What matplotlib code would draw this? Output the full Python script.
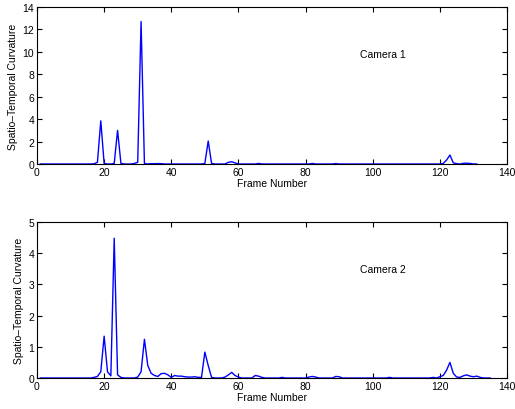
import numpy as np
import matplotlib
matplotlib.use("Agg")
import matplotlib.pyplot as plt

plt.rcParams['font.family'] = ['Liberation Sans', 'DejaVu Sans']

# Camera 1: frames 1..131, mostly zero with peaks
cam1_frames = list(range(1, 132))
cam1_peaks = {17: 0.02, 18: 0.15, 19: 3.85, 20: 0.05,
              23: 0.05, 24: 3.0, 25: 0.05,
              29: 0.05, 30: 0.15, 31: 12.7, 32: 0.05,
              34: 0.03, 35: 0.03, 36: 0.04, 37: 0.03,
              50: 0.05, 51: 2.05, 52: 0.05,
              57: 0.15, 58: 0.2, 59: 0.1,
              66: 0.05, 82: 0.05, 89: 0.04,
              121: 0.05, 122: 0.35, 123: 0.8, 124: 0.1, 125: 0.03,
              127: 0.06, 128: 0.07, 129: 0.05}
cam1_values = [cam1_peaks.get(f, 0.0) for f in cam1_frames]

# Camera 2: frames 1..135
cam2_frames = list(range(1, 136))
cam2_peaks = {17: 0.02, 18: 0.05, 19: 0.2, 20: 1.34, 21: 0.2, 22: 0.07,
              23: 4.48, 24: 0.1, 25: 0.02,
              30: 0.03, 31: 0.2, 32: 1.24, 33: 0.4, 34: 0.15, 35: 0.08,
              36: 0.05, 37: 0.14, 38: 0.15, 39: 0.1, 40: 0.02, 41: 0.08,
              42: 0.06, 43: 0.06, 44: 0.04, 45: 0.03, 46: 0.03, 47: 0.04,
              48: 0.02, 49: 0.02, 50: 0.83, 51: 0.4, 52: 0.02,
              56: 0.03, 57: 0.1, 58: 0.18, 59: 0.08, 60: 0.03,
              65: 0.08, 66: 0.06, 67: 0.02,
              73: 0.02, 81: 0.03, 82: 0.05, 83: 0.03,
              89: 0.05, 90: 0.04, 105: 0.02, 118: 0.02,
              120: 0.04, 121: 0.08, 122: 0.25, 123: 0.5, 124: 0.15, 125: 0.03,
              126: 0.02, 127: 0.07, 128: 0.1, 129: 0.06, 130: 0.04, 131: 0.06, 132: 0.02}
cam2_values = [cam2_peaks.get(f, 0.0) for f in cam2_frames]

x_ticks = [0, 20, 40, 60, 80, 100, 120, 140]
y1_ticks = [0, 2, 4, 6, 8, 10, 12, 14]
y2_ticks = [0, 1, 2, 3, 4, 5]

W, H = 515, 410
fig = plt.figure(figsize=(W / 100, H / 100), dpi=100)

def make_ax(left, top, right, bottom):
    return fig.add_axes([left / W, 1 - bottom / H, (right - left) / W, (bottom - top) / H])

ax1 = make_ax(37, 8, 507, 165)
ax2 = make_ax(37, 223, 507, 379)

for ax, fr, vals, yt, label, ty in [
        (ax1, cam1_frames, cam1_values, y1_ticks, 'Camera 1', 9.8),
        (ax2, cam2_frames, cam2_values, y2_ticks, 'Camera 2', 3.5)]:
    ax.plot(fr, vals, color='#0000ff', linewidth=1.0)
    ax.set_xlim(0, 140)
    ax.set_ylim(yt[0], yt[-1])
    ax.set_xticks(x_ticks)
    ax.set_yticks(yt)
    ax.tick_params(direction='in', top=True, right=True, length=3.5,
                   width=0.8, labelsize=7.5, pad=2)
    for s in ax.spines.values():
        s.set_linewidth(0.8)
    ax.set_xlabel('Frame Number', fontsize=7.5, labelpad=1)
    ax.set_ylabel('Spatio\u2013Temporal Curvature', fontsize=7.5, labelpad=3)
    ax.text(103, ty, label, fontsize=7.5, ha='center', va='center')

fig.savefig('out.png', dpi=100)
